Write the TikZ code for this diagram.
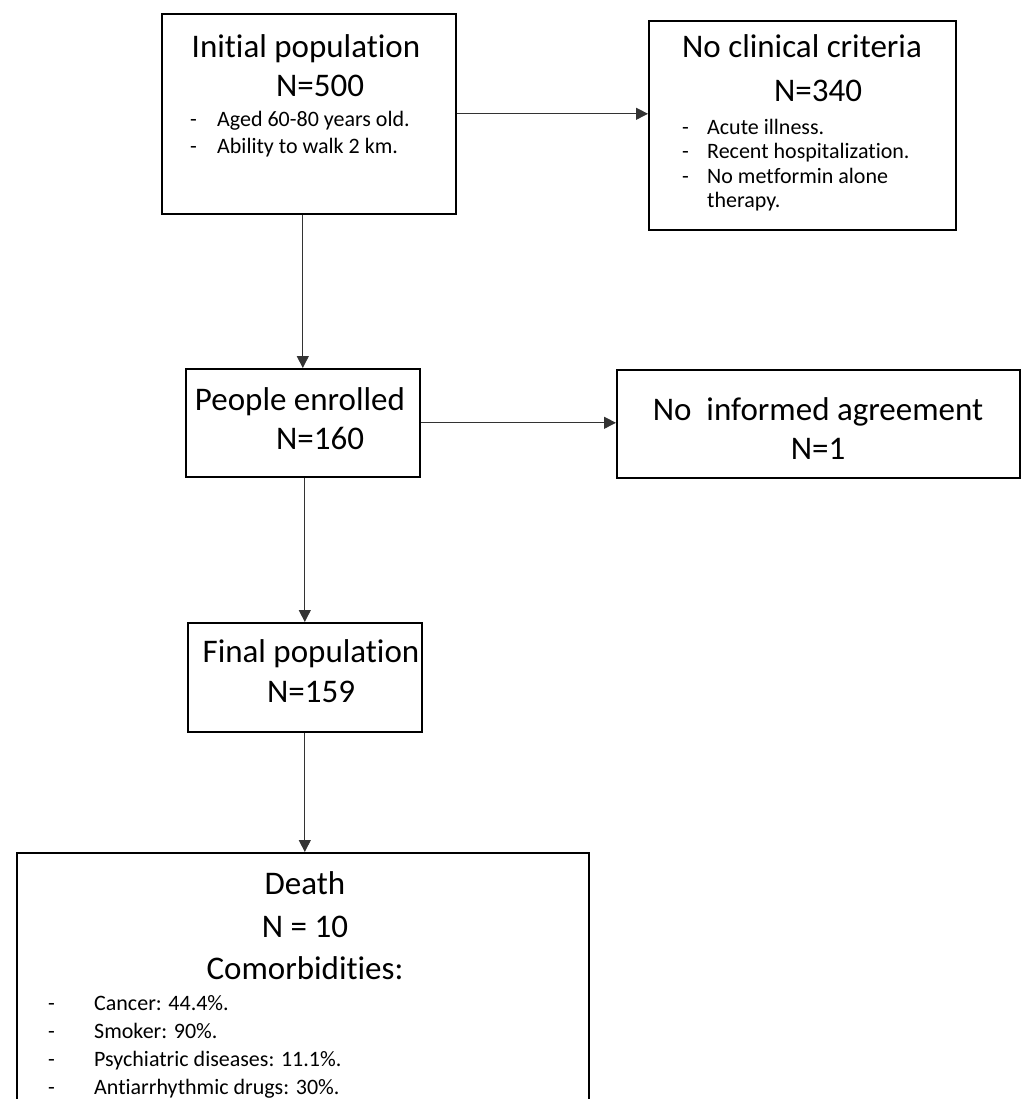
\documentclass[tikz,border=0pt]{standalone}
\usepackage{fontspec}
\setmainfont{Carlito}[RawFeature={-liga;-clig;-dlig;-calt}]
\usetikzlibrary{arrows.meta,positioning}
\tikzset{
  box/.style   = {draw, line width=1.6pt, anchor=north west, inner sep=0pt},
  link/.style  = {-{Triangle[length=12pt,width=12pt]}, line width=0.9pt, black!80},
  ttl/.style   = {font=\fontsize{33}{38}\selectfont, inner sep=0pt, anchor=base},
  itm/.style   = {font=\fontsize{22}{26}\selectfont, inner sep=0pt, anchor=base west},
}

\begin{document}
\begin{tikzpicture}[x=1pt,y=-1pt]
  \useasboundingbox (0,0) rectangle (1022,1099);
  \clip (0,0) rectangle (1022,1099);
  % boxes
  \node[box, minimum width=294pt, minimum height=200pt] (init)   at (161,13)  {};
  \node[box, minimum width=307pt, minimum height=209pt] (noclin) at (648,20)  {};
  \node[box, minimum width=234pt, minimum height=108pt] (people) at (185,368) {};
  \node[box, minimum width=403pt, minimum height=108pt] (noinf)  at (616,369) {};
  \node[box, minimum width=234pt, minimum height=109pt] (final)  at (187,622) {};
  \node[box, minimum width=572pt, minimum height=300pt] (death)  at (16,852)  {};
  % texts
  \node[ttl] (initT)   at (306,58)  {Initial population};
  \node[ttl] (initN)   at (320,97)  {N=500};
  \foreach \t [count=\i] in {Aged 60-80 years old., Ability to walk 2 km.}
    \node[itm] (initB\i) at (190,{100+27*\i}) {\makebox[27pt][l]{-}\t};
  \node[ttl] (noclinT) at (802,58)  {No clinical criteria};
  \node[ttl] (noclinN) at (818,102) {N=340};
  \foreach \d/\t [count=\i] in {-/Acute illness., -/Recent hospitalization.,
                                -/No metformin alone, /therapy.}
    \node[itm] (noclinB\i) at (682,{110+24.5*\i}) {\makebox[25pt][l]{\d}\t};
  \node[ttl] (peopleT) at (300,410) {People enrolled};
  \node[ttl] (peopleN) at (320,449) {N=160};
  \node[ttl] (noinfT)  at (818,420) {No~~informed agreement};
  \node[ttl] (noinfN)  at (818,459) {N=1};
  \node[ttl] (finalT)  at (311,662) {Final population};
  \node[ttl] (finalN)  at (311,702) {N=159};
  \node[ttl] (deathT)  at (305,894) {Death};
  \node[ttl] (deathN)  at (305,937) {N = 10};
  \node[ttl] (deathC)  at (305,979) {Comorbidities:};
  \foreach \t [count=\i] in {Cancer: 44.4\%., Smoker: 90\%.,
                             Psychiatric diseases: 11.1\%., Antiarrhythmic drugs: 30\%.}
    \node[itm] (deathB\i) at (48,{982+28*\i}) {\makebox[46pt][l]{-}\t};
  % arrows
  \draw[link] (init.east) -- (init.east -| noclin.west);
  \draw[link] (people.north |- init.south) -- (people.north);
  \draw[link] (people.east) -- (people.east -| noinf.west);
  \draw[link] (final.north |- people.south) -- (final.north);
  \draw[link] (final.south) -- (final.south |- death.north);
\end{tikzpicture}
\end{document}
